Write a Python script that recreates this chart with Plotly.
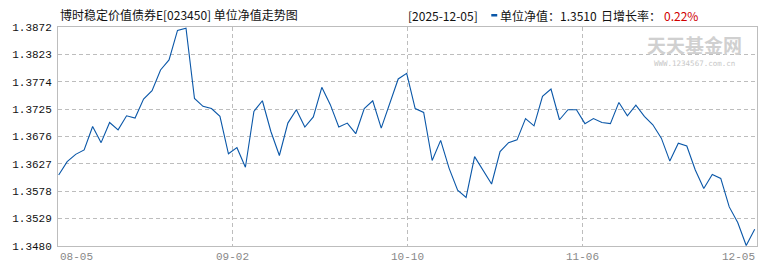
import plotly.graph_objects as go

# ---- data ----
nav_values = [
    1.3607, 1.3631, 1.3644, 1.3652, 1.3694, 1.3665, 1.3701, 1.3688, 1.3713, 1.3709,
    1.3743, 1.3758, 1.3795, 1.3813, 1.3866, 1.3870, 1.3744, 1.3730, 1.3726, 1.3712,
    1.3645, 1.3656, 1.3621, 1.3721, 1.3740, 1.3685, 1.3642, 1.3700, 1.3724, 1.3693,
    1.3711, 1.3764, 1.3733, 1.3693, 1.3700, 1.3681, 1.3726, 1.3740, 1.3691, 1.3735,
    1.3779, 1.3789, 1.3726, 1.3719, 1.3633, 1.3669, 1.3619, 1.3580, 1.3567, 1.3640,
    1.3616, 1.3591, 1.3649, 1.3665, 1.3670, 1.3708, 1.3695, 1.3748, 1.3761, 1.3706,
    1.3724, 1.3724, 1.3699, 1.3708, 1.3701, 1.3699, 1.3737, 1.3713, 1.3732, 1.3712,
    1.3697, 1.3673, 1.3632, 1.3664, 1.3659, 1.3616, 1.3583, 1.3608, 1.3601, 1.3550,
    1.3522, 1.3481, 1.3510,
]
x_tick_labels = ["08-05", "09-02", "10-10", "11-06", "12-05"]
y_tick_values = [1.3480, 1.3529, 1.3578, 1.3627, 1.3676, 1.3725, 1.3774, 1.3823, 1.3872]
title_text = "博时稳定价值债券E[023450] 单位净值走势图"
info_date = "[2025-12-05]"
info_nav = "单位净值：1.3510"
info_growth_label = "日增长率："
info_growth = "0.22%"
watermark_main = "天天基金网"
watermark_sub = "WWW.1234567.com.cn"

# ---- layout constants (pixels) ----
W, H = 770, 270
ML, MR, MT, MB = 53, 12, 27, 24
PW = W - ML - MR
PH = H - MT - MB

def px_x(p):
    return (p - ML) / PW

def px_y(p):
    return (H - MB - p) / PH

n = len(nav_values)
xs = list(range(n))
x0, x1 = -0.08, (n - 1) + 0.27
x_tick_vals = [x0 + (x1 - x0) * k / (len(x_tick_labels) - 1) for k in range(len(x_tick_labels))]

grid_color = "#bdbdbd"
line_blue = "#0a57a8"
cjk = "Noto Sans CJK SC, sans-serif"

fig = go.Figure()
fig.add_trace(go.Scatter(
    x=xs, y=nav_values, mode="lines",
    line=dict(color=line_blue, width=1.1),
    hoverinfo="skip", showlegend=False,
))

fig.update_layout(
    width=W, height=H,
    margin=dict(l=ML, r=MR, t=MT, b=MB, pad=0),
    paper_bgcolor="white", plot_bgcolor="white",
    showlegend=False,
    xaxis=dict(
        range=[x0, x1], tickvals=x_tick_vals, showticklabels=False,
        showgrid=True, gridcolor=grid_color, griddash="4px,3px", gridwidth=1,
        showline=True, linecolor=grid_color, linewidth=1, mirror=True,
        zeroline=False, ticks="",
    ),
    yaxis=dict(
        range=[y_tick_values[0], y_tick_values[-1]],
        tickvals=y_tick_values,
        ticktext=[f"{v:.4f}" for v in y_tick_values],
        tickfont=dict(family="Liberation Mono, monospace", size=11, color="#111"),
        ticklabelstandoff=3,
        showgrid=True, gridcolor=grid_color, griddash="4px,3px", gridwidth=1,
        showline=True, linecolor=grid_color, linewidth=1, mirror=True,
        zeroline=False, ticks="",
    ),
)

annotations = []
# x tick labels (first left-aligned, last right-aligned)
for k, (tv, lab) in enumerate(zip(x_tick_vals, x_tick_labels)):
    anchor = "left" if k == 0 else ("right" if k == len(x_tick_labels) - 1 else "center")
    annotations.append(dict(
        x=tv, y=px_y(257), xref="x", yref="paper", text=lab, showarrow=False,
        xanchor=anchor, yanchor="middle",
        font=dict(family="Liberation Mono, monospace", size=11, color="#888"),
    ))

# title
annotations.append(dict(
    x=px_x(53), y=px_y(14), xref="paper", yref="paper", text=title_text,
    showarrow=False, xanchor="left", yanchor="middle",
    font=dict(family=cjk, size=12, color="#111"),
))
# info line
for px, txt, col in [(404, info_date, "#111"), (497, info_nav, "#111"),
                     (599, info_growth_label, "#111"), (662, info_growth, "#d00000")]:
    annotations.append(dict(
        x=px_x(px), y=px_y(15), xref="paper", yref="paper", text=txt,
        showarrow=False, xanchor="left", yanchor="middle",
        font=dict(family=cjk, size=12, color=col),
    ))
# watermark
annotations.append(dict(
    x=px_x(695), y=px_y(44), xref="paper", yref="paper", text="<b>" + watermark_main + "</b>",
    showarrow=False, xanchor="center", yanchor="middle", borderpad=0,
    font=dict(family=cjk, size=19, color="#d0d0d0"),
))
annotations.append(dict(
    x=px_x(695), y=px_y(63), xref="paper", yref="paper", text=watermark_sub,
    showarrow=False, xanchor="center", yanchor="middle", borderpad=0,
    font=dict(family="DejaVu Sans Mono, monospace", size=7.5, color="#c8c8c8"),
))
fig.update_layout(annotations=annotations)

# legend marker for the info line
fig.add_shape(type="rect", xref="paper", yref="paper",
              x0=px_x(490), x1=px_x(496), y0=px_y(16.5), y1=px_y(14),
              fillcolor=line_blue, line=dict(width=0))

fig.write_html("out.html")
